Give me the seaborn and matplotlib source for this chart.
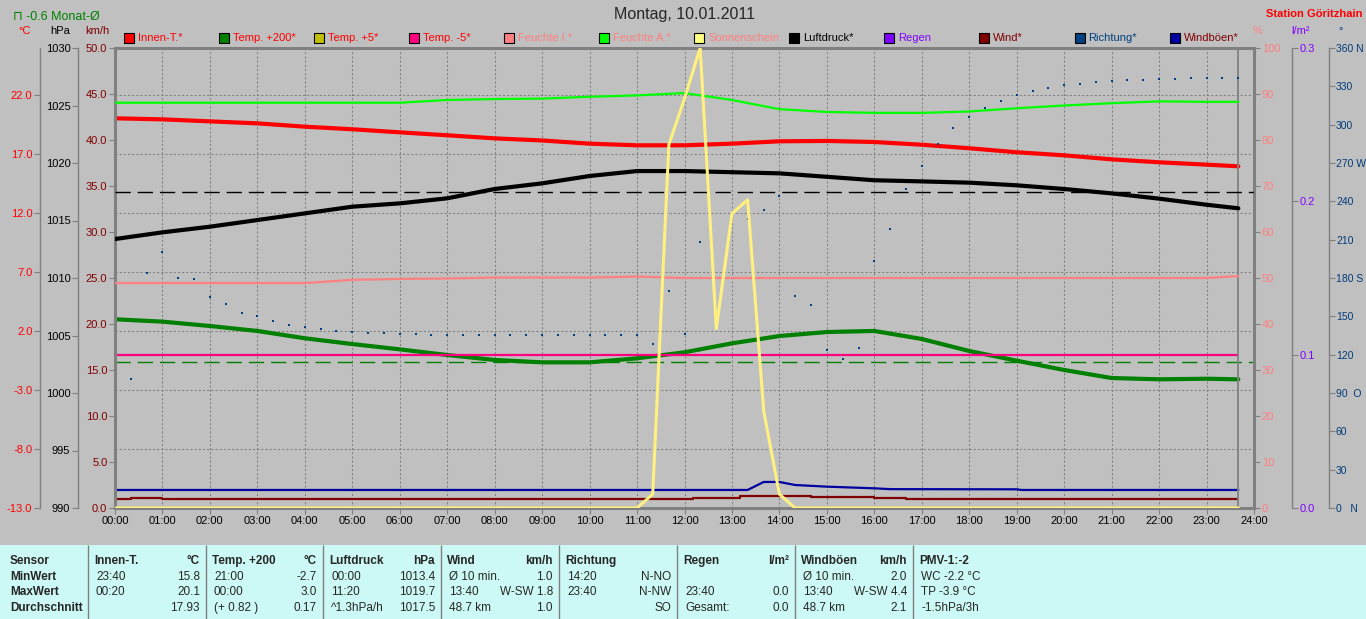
import numpy as np
import seaborn as sns
import matplotlib.pyplot as plt
from matplotlib import font_manager
from matplotlib.patches import Rectangle

# ---- values ----
hours = [0, 1, 2, 3, 4, 5, 6, 7, 8, 9, 10, 11, 12,
         13, 14, 15, 16, 17, 18, 19, 20, 21, 22, 23, 23.67]
innen_t = [20.04, 19.95, 19.78, 19.61, 19.33, 19.11, 18.85, 18.60, 18.34, 18.16, 17.89, 17.75, 17.75,
           17.89, 18.09, 18.12, 18.03, 17.80, 17.50, 17.16, 16.90, 16.56, 16.31, 16.11, 15.97]
temp_200 = [3.0, 2.80, 2.43, 2.01, 1.39, 0.90, 0.45, -0.03, -0.45, -0.65, -0.65, -0.31, 0.20,
            0.96, 1.58, 1.92, 2.01, 1.33, 0.31, -0.51, -1.30, -1.98, -2.09, -2.04, -2.09]
luftdruck = [1013.39, 1013.97, 1014.46, 1015.04, 1015.62, 1016.20, 1016.49, 1016.93, 1017.74,
             1018.23, 1018.87, 1019.30, 1019.30, 1019.20, 1019.10, 1018.80, 1018.50, 1018.40,
             1018.29, 1018.06, 1017.74, 1017.36, 1016.90, 1016.37, 1016.06]
feuchte_i = [48.9, 48.9, 48.9, 48.9, 48.9, 49.6, 49.8, 49.9, 50.1, 50.1, 50.1, 50.3, 50.0,
             50.0, 50.0, 50.0, 50.0, 50.0, 50.0, 50.0, 50.0, 50.0, 50.0, 50.0, 50.4]
feuchte_a = [88.1, 88.1, 88.1, 88.1, 88.1, 88.1, 88.1, 88.7, 88.9, 89.0, 89.4, 89.7, 90.2,
             88.7, 86.7, 86.1, 85.9, 85.9, 86.2, 86.9, 87.5, 88.0, 88.4, 88.3, 88.3]
temp_m5_hours = [0, 23.67]
temp_m5 = [0.0, 0.0]

sun_hours = [0, 11.0, 11.33, 11.67, 12.0, 12.33, 12.67, 13.0, 13.33, 13.67, 14.0, 14.33, 23.67]
sonnenschein = [0, 0, 3, 79, 89, 100, 39, 64, 67, 21, 3, 0, 0]

wind_hours = [0, 0.33, 1.0, 12.17, 13.17, 14.67, 16.0, 16.67, 23.67]
wind = [1.01, 1.12, 1.01, 1.12, 1.34, 1.23, 1.12, 1.01, 1.01]
gust_hours = [0, 13.33, 13.67, 14.0, 14.33, 15.0, 16.0, 16.33, 19.0, 19.1, 23.67]
windboeen = [1.96, 1.96, 2.83, 2.83, 2.5, 2.32, 2.14, 2.05, 2.03, 1.96, 1.96]

# wind direction, one value every 20 minutes (nan = not visible)
dir_hours = [i / 3 for i in range(72)]
richtung = [np.nan, 101, 184, 200, 180, 179, 165, 160, 153, 150, 146, 143, 142, 140, 138.5, 137.7,
            137.2, 137.2, 136, 136, 135.4, 135.4, 135.4, 135.4, 135.4, 135.4, 135.4, 135.4,
            135.4, 135.4, 135.4, 135.4, 135.4, 135.4, 128, 170, 136, 208, np.nan, np.nan,
            226, 233, 244, 166, 159, 124, 117, 125, 193, 218, 250, 268, 285, 297, 306, 313,
            318.5, 323.5, 326, 329, 331, 332, 333.4, 334, 335, 335, 336, 336, 336.5, 336.5,
            336.5, 336.5]

monat_mittel = -0.6
druck_mittel = 1017.5
now_hour = 23 + 40 / 60

legend_names = ["Innen-T.*", "Temp. +200*", "Temp. +5*", "Temp. -5*", "Feuchte I.*", "Feuchte A.*",
                "Sonnenschein", "Luftdruck*", "Regen", "Wind*", "Richtung*", "Windböen*"]
legend_box = ["#FF0000", "#008000", "#C0C000", "#FF0080", "#FF8080", "#00FF00",
              "#FFFF80", "#000000", "#8000FF", "#800000", "#004080", "#0000A0"]
legend_text = ["#FF0000"] * 4 + ["#FF8080"] * 3 + ["#000000", "#8000FF", "#800000", "#004080", "#800000"]

tab_header = ["Innen-T.", "Temp. +200", "Luftdruck", "Wind", "Richtung", "Regen", "Windböen", "PMV-1:-2"]
tab_units = ["°C", "°C", "hPa", "km/h", "", "l/m²", "km/h", ""]
row_names = ["MinWert", "MaxWert", "Durchschnitt"]
row_left = [["23:40", "21:00", "00:00", "Ø 10 min.", "14:20", "", "Ø 10 min.", "WC -2.2 °C"],
            ["00:20", "00:00", "11:20", "13:40", "23:40", "23:40", "13:40", "TP -3.9 °C"],
            ["", "(+ 0.82 )", "^1.3hPa/h", "48.7 km", "", "Gesamt:", "48.7 km", "-1.5hPa/3h"]]
row_right = [["15.8", "-2.7", "1013.4", "1.0", "N-NO", "", "2.0", ""],
             ["20.1", "3.0", "1019.7", "W-SW 1.8", "N-NW", "0.0", "W-SW 4.4", ""],
             ["17.93", "0.17", "1017.5", "1.0", "SO", "0.0", "2.1", ""]]

# ---- style ----
sns.set_theme(style="white", rc={"figure.facecolor": "#C0C0C0", "axes.facecolor": "#C0C0C0",
                                 "savefig.facecolor": "#C0C0C0", "axes.edgecolor": "#808080"})
plt.rcParams["font.family"] = ["Liberation Sans", "DejaVu Sans"]
installed = {f.name for f in font_manager.fontManager.ttflist}
narrow = "Liberation Sans Narrow" if "Liberation Sans Narrow" in installed else "Liberation Sans"
tab_font = [narrow, "DejaVu Sans"]

W, H = 1366, 619
grey = "#808080"
x0, x1, y0, y1 = 115, 1254, 48, 508


def fx(x):
    return x / W


def fy(y):
    return 1 - y / H


def off(x):
    return (x - x0) / (x1 - x0)


fig = plt.figure(figsize=(W / 100, H / 100), dpi=100)
ax_t = fig.add_axes([fx(x0), fy(y1), (x1 - x0) / W, (y1 - y0) / H])
ax_k = ax_t.twinx()
ax_p = ax_t.twinx()
ax_d = ax_t.twinx()
ax_h = ax_t.twinx()
ax_r = ax_t.twinx()


def setup(axis, side, pos, lw, lim, ticks, labels, color, size=8, pad=1.5):
    for s in axis.spines.values():
        s.set_visible(False)
    sp = axis.spines[side]
    sp.set_visible(True)
    sp.set_position(("axes", pos))
    sp.set_color(grey)
    sp.set_linewidth(lw)
    if side == "left":
        axis.yaxis.tick_left()
    else:
        axis.yaxis.tick_right()
    axis.set_ylim(*lim)
    axis.set_yticks(ticks)
    axis.set_yticklabels(labels)
    axis.tick_params(axis="y", length=4, width=0.8, color=grey, labelcolor=color,
                     labelsize=size, pad=pad)


c_ticks = list(range(-13, 23, 5))
setup(ax_t, "left", off(40), 1.0, (-13, 26), c_ticks, [f"{v:.1f}" for v in c_ticks], "#FF0000")
k_ticks = list(range(0, 51, 5))
setup(ax_k, "left", 0.0, 2.2, (0, 50), k_ticks, [f"{v:.1f}" for v in k_ticks], "#800000")
p_ticks = list(range(990, 1031, 5))
setup(ax_p, "left", off(78), 1.0, (990, 1030), p_ticks, [str(v) for v in p_ticks], "#000000")
h_ticks = list(range(0, 101, 10))
setup(ax_h, "right", 1.0, 1.0, (0, 100), h_ticks, [str(v) for v in h_ticks], "#FF8080")
r_ticks = [0.0, 0.1, 0.2, 0.3]
setup(ax_r, "right", off(1292), 1.0, (0, 0.3), r_ticks, [f"{v:.1f}" for v in r_ticks], "#8000FF")
d_ticks = list(range(0, 361, 30))
compass = {0: "   N", 90: "  O", 180: " S", 270: " W", 360: " N"}
setup(ax_d, "right", off(1329), 1.0, (0, 360), d_ticks,
      [f"{v}{compass.get(v, '')}" for v in d_ticks], "#003C7A", size=7.5, pad=1)

# frame and time axis on the base axes
for side in ["bottom", "top", "right"]:
    ax_t.spines[side].set_visible(True)
    ax_t.spines[side].set_color(grey)
    ax_t.spines[side].set_linewidth(2.2)
ax_t.set_xlim(0, 24)
ax_t.set_xticks(range(25))
ax_t.set_xticklabels([f"{h:02d}:00" for h in range(25)])
ax_t.tick_params(axis="x", bottom=True, top=False, length=4, width=0.8, color=grey,
                 labelsize=8, labelcolor="black", pad=1.5)
ax_t.grid(True, color=grey, linestyle=(0, (2, 2)), linewidth=0.75)

# ---- series ----
sns.lineplot(x=hours, y=temp_200, ax=ax_t, color="#008000", linewidth=3)
sns.lineplot(x=temp_m5_hours, y=temp_m5, ax=ax_t, color="#FF0080", linewidth=1.6)
sns.lineplot(x=hours, y=innen_t, ax=ax_t, color="#FF0000", linewidth=3)
ax_t.axhline(monat_mittel, color="#008000", linewidth=1.0, dashes=(11, 5))

sns.lineplot(x=wind_hours, y=wind, ax=ax_k, color="#800000", linewidth=1.6, drawstyle="steps-post")
sns.lineplot(x=gust_hours, y=windboeen, ax=ax_k, color="#0000A0", linewidth=1.6)
ax_k.axvline(now_hour, color=grey, linewidth=1.3)

sns.lineplot(x=hours, y=luftdruck, ax=ax_p, color="#000000", linewidth=3)
ax_p.axhline(druck_mittel, color="#000000", linewidth=1.0, dashes=(11, 5))

sns.scatterplot(x=dir_hours, y=richtung, ax=ax_d, color="#004080", marker="s", s=3, linewidth=0)

sns.lineplot(x=hours, y=feuchte_i, ax=ax_h, color="#FF8080", linewidth=1.6)
sns.lineplot(x=hours, y=feuchte_a, ax=ax_h, color="#00FF00", linewidth=1.6)
sns.lineplot(x=sun_hours, y=sonnenschein, ax=ax_h, color="#FFF080", linewidth=2.2)

for axis in [ax_t, ax_k, ax_p, ax_d, ax_h, ax_r]:
    axis.set_xlabel("")
    axis.set_ylabel("")
ax_t.set_xlim(0, 24)

# ---- header texts ----
fig.text(fx(685), fy(15), "Montag, 10.01.2011", ha="center", va="center", fontsize=11.5)
fig.text(fx(1362), fy(14), "Station Göritzhain", ha="right", va="center", fontsize=8,
         color="#FF0000", fontweight="bold")
fig.text(fx(13), fy(17), f"⊓ {monat_mittel:.1f} Monat-Ø", ha="left", va="center", fontsize=9,
         color="#008000")
for x, s, c in [(25, "°C", "#FF0000"), (60, "hPa", "#000000"), (97, "km/h", "#800000"),
                (1258, "%", "#FF8080"), (1300, "l/m²", "#8000FF"), (1341, "°", "#003C7A")]:
    fig.text(fx(x), fy(31), s, ha="center", va="center", fontsize=8, color=c)

# legend row
for i, (name, bc, tc) in enumerate(zip(legend_names, legend_box, legend_text)):
    lx = 124 + 95.05 * i
    fig.patches.append(Rectangle((fx(lx), fy(43)), 10 / W, 10 / H, transform=fig.transFigure,
                                 facecolor=bc, edgecolor="black", linewidth=0.8))
    fig.text(fx(lx + 14), fy(38), name, ha="left", va="center", fontsize=8, color=tc)

# ---- statistics table ----
tab = fig.add_axes([0, 0, 1, (H - 545) / H])
tab.set_xlim(0, W)
tab.set_ylim(H, 545)
tab.set_facecolor("#CCF9F6")
tab.set_xticks([])
tab.set_yticks([])
for s in tab.spines.values():
    s.set_visible(False)
seps = [88, 206, 323, 441, 559, 677, 795, 913]
tab.vlines(seps, 545, H, color=grey, linewidth=1)
row_y = [561, 577, 592, 608]
tab.text(10, row_y[0], "Sensor", ha="left", va="center", fontsize=8.5, fontweight="bold", family=tab_font)
for j, name in enumerate(row_names):
    tab.text(10, row_y[j + 1], name, ha="left", va="center", fontsize=8.5, fontweight="bold",
             family=tab_font)
for k, sx in enumerate(seps):
    right = seps[k + 1] - 6 if k + 1 < len(seps) else W - 6
    tab.text(sx + 6, row_y[0], tab_header[k], ha="left", va="center", fontsize=8.5,
             fontweight="bold", family=tab_font)
    tab.text(right, row_y[0], tab_units[k], ha="right", va="center", fontsize=8.5,
             fontweight="bold", family=tab_font)
    for j in range(3):
        tab.text(sx + 8, row_y[j + 1], row_left[j][k], ha="left", va="center", fontsize=8.5,
                 family=tab_font)
        tab.text(right, row_y[j + 1], row_right[j][k], ha="right", va="center", fontsize=8.5,
                 family=tab_font)

fig.savefig("out.png", dpi=100, facecolor=fig.get_facecolor())
